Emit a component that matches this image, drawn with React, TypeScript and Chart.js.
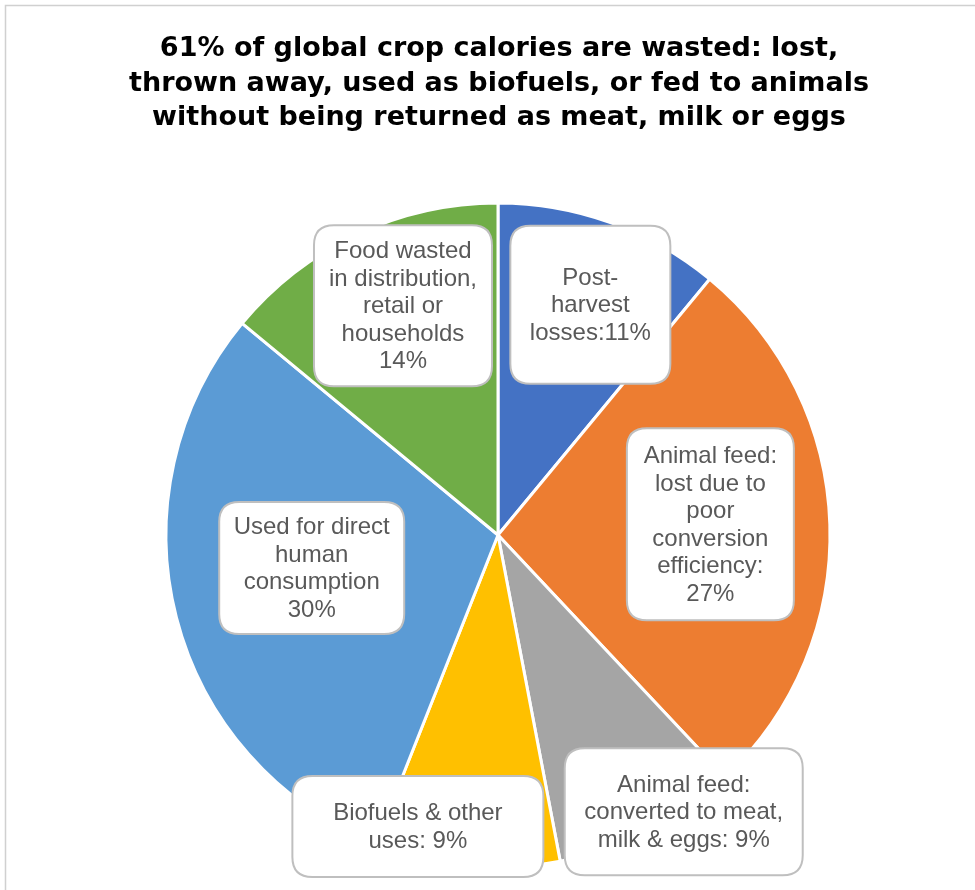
import React, { useEffect, useRef } from "react";
import { Chart, registerables } from "chart.js";

Chart.register(...registerables);

const categories = [
  "Post-harvest losses",
  "Animal feed: lost due to poor conversion efficiency",
  "Animal feed: converted to meat, milk & eggs",
  "Biofuels & other uses",
  "Used for direct human consumption",
  "Food wasted in distribution, retail or households",
];
const values = [11, 27, 9, 9, 30, 14];
const colors = ["#4472C4", "#ED7D31", "#A5A5A5", "#FFC000", "#5B9BD5", "#70AD47"];
const labelLines = [
  ["Post-", "harvest", `losses:${values[0]}%`],
  ["Animal feed:", "lost due to", "poor", "conversion", "efficiency:", `${values[1]}%`],
  ["Animal feed:", "converted to meat,", `milk & eggs: ${values[2]}%`],
  ["Biofuels & other", `uses: ${values[3]}%`],
  ["Used for direct", "human", "consumption", `${values[4]}%`],
  ["Food wasted", "in distribution,", "retail or", "households", `${values[5]}%`],
];
const titleLines = [
  "61% of global crop calories are wasted: lost,",
  "thrown away, used as biofuels, or fed to animals",
  "without being returned as meat, milk or eggs",
];

// label box placement relative to each slice (fraction of radius along mid-angle + pixel nudge) and box size
const labelLayout = [
  { f: 0.75, dx: 8, dy: 4, w: 160, h: 158 },
  { f: 0.64, dx: 0, dy: -4, w: 167, h: 192 },
  { f: 1.0, dx: 35, dy: -19, w: 238, h: 127 },
  { f: 0.9, dx: -52, dy: -6, w: 251, h: 101 },
  { f: 0.57, dx: -3, dy: -14, w: 185, h: 132 },
  { f: 0.75, dx: 11, dy: -4, w: 178, h: 161 },
];

function roundRect(ctx: CanvasRenderingContext2D, x: number, y: number, w: number, h: number, r: number) {
  ctx.beginPath();
  ctx.moveTo(x + r, y);
  ctx.lineTo(x + w - r, y);
  ctx.quadraticCurveTo(x + w, y, x + w, y + r);
  ctx.lineTo(x + w, y + h - r);
  ctx.quadraticCurveTo(x + w, y + h, x + w - r, y + h);
  ctx.lineTo(x + r, y + h);
  ctx.quadraticCurveTo(x, y + h, x, y + h - r);
  ctx.lineTo(x, y + r);
  ctx.quadraticCurveTo(x, y, x + r, y);
  ctx.closePath();
}

const decorPlugin = {
  id: "decor",
  beforeDraw(chart: any) {
    const ctx: CanvasRenderingContext2D = chart.ctx;
    ctx.save();
    ctx.fillStyle = "#ffffff";
    ctx.fillRect(0, 0, chart.width, chart.height);
    ctx.strokeStyle = "#D0D0D0";
    ctx.lineWidth = 1.5;
    ctx.strokeRect(5.5, 5.5, chart.width + 20, chart.height + 20);
    ctx.fillStyle = "#000000";
    ctx.font = "bold 27px 'DejaVu Sans', 'Liberation Sans', sans-serif";
    ctx.textAlign = "center";
    ctx.textBaseline = "alphabetic";
    titleLines.forEach((t, i) => ctx.fillText(t, 499, 56 + i * 34.5));
    ctx.restore();
  },
  afterDatasetsDraw(chart: any) {
    const ctx: CanvasRenderingContext2D = chart.ctx;
    const meta = chart.getDatasetMeta(0);
    ctx.save();
    meta.data.forEach((arc: any, i: number) => {
      const L = labelLayout[i];
      const mid = (arc.startAngle + arc.endAngle) / 2;
      const r = arc.outerRadius * L.f;
      const cx = arc.x + Math.cos(mid) * r + L.dx;
      const cy = arc.y + Math.sin(mid) * r + L.dy;
      const bx = cx - L.w / 2;
      const by = cy - L.h / 2;
      roundRect(ctx, bx, by, L.w, L.h, 20);
      ctx.fillStyle = "#ffffff";
      ctx.fill();
      ctx.strokeStyle = "#BFBFBF";
      ctx.lineWidth = 2;
      ctx.stroke();
      ctx.fillStyle = "#595959";
      ctx.font = "24px 'Liberation Sans', Arial, sans-serif";
      ctx.textAlign = "center";
      ctx.textBaseline = "middle";
      const lines = labelLines[i];
      const lh = 27.5;
      lines.forEach((t, j) => {
        ctx.fillText(t, cx, cy + (j - (lines.length - 1) / 2) * lh + 1);
      });
    });
    ctx.restore();
  },
};

export default function App() {
  const ref = useRef<HTMLCanvasElement>(null);
  useEffect(() => {
    if (!ref.current) return;
    const chart = new Chart(ref.current, {
      type: "pie",
      data: {
        labels: categories,
        datasets: [
          {
            data: values,
            backgroundColor: colors,
            borderColor: "#ffffff",
            borderWidth: 3,
            hoverOffset: 0,
          },
        ],
      },
      options: {
        responsive: false,
        animation: false,
        devicePixelRatio: 1,
        layout: { padding: { left: 164.5, right: 143.5, top: 201.5, bottom: 21.5 } },
        plugins: {
          legend: { display: false },
          tooltip: { enabled: false },
          title: { display: false },
        },
      },
      plugins: [decorPlugin],
    });
    return () => chart.destroy();
  }, []);
  return (
    <div style={{ position: "absolute", left: 0, top: 0, width: 975, height: 890 }}>
      <canvas ref={ref} width={975} height={890} style={{ display: "block" }} />
    </div>
  );
}
